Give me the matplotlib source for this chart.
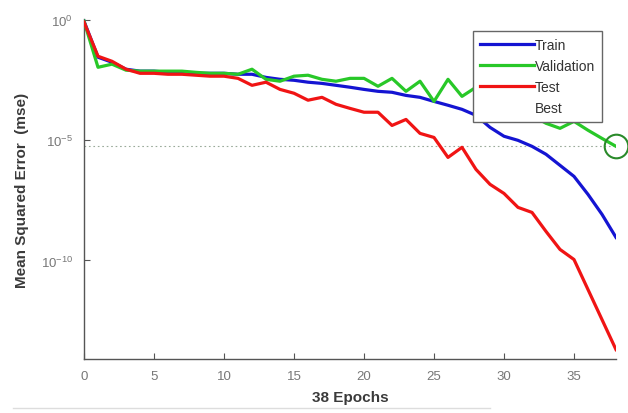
import numpy as np
import matplotlib
matplotlib.use('Agg')
import matplotlib.pyplot as plt
from matplotlib.lines import Line2D

# log10(mse) per epoch
epochs = list(range(39))
train_log = [-0.04, -1.54, -1.75, -2.04, -2.12, -2.12, -2.17, -2.17, -2.21, -2.21,
             -2.21, -2.25, -2.25, -2.38, -2.46, -2.50, -2.58, -2.63, -2.71, -2.79,
             -2.88, -2.96, -3.00, -3.13, -3.21, -3.38, -3.54, -3.71, -3.96, -4.46,
             -4.83, -5.00, -5.25, -5.58, -6.04, -6.50, -7.25, -8.08, -9.04]
val_log = [-0.04, -1.96, -1.83, -2.08, -2.12, -2.12, -2.12, -2.12, -2.17, -2.21,
           -2.21, -2.25, -2.04, -2.46, -2.54, -2.33, -2.29, -2.46, -2.54, -2.42,
           -2.42, -2.75, -2.42, -2.96, -2.54, -3.38, -2.46, -3.17, -2.79, -3.13,
           -3.38, -3.63, -3.96, -4.29, -4.50, -4.21, -4.58, -4.92, -5.25]
test_log = [-0.08, -1.50, -1.71, -2.04, -2.21, -2.21, -2.25, -2.25, -2.29, -2.33,
            -2.33, -2.42, -2.71, -2.58, -2.88, -3.04, -3.33, -3.21, -3.50, -3.67,
            -3.83, -3.83, -4.38, -4.13, -4.71, -4.88, -5.71, -5.29, -6.21, -6.83,
            -7.21, -7.79, -8.00, -8.79, -9.54, -9.96, -11.21, -12.46, -13.71]
labels = ['Train', 'Validation', 'Test', 'Best']
best_epoch = 38
best_log = -5.25

train = 10.0 ** np.array(train_log)
val = 10.0 ** np.array(val_log)
test = 10.0 ** np.array(test_log)
best = 10.0 ** best_log

plt.rcParams['font.family'] = ['Liberation Sans', 'DejaVu Sans']

fig = plt.figure(figsize=(6.28, 4.14), dpi=100)
ax = fig.add_axes([84 / 628, 1 - 360 / 414, (616 - 84) / 628, (360 - 20) / 414])

ax.plot(epochs, train, color='#1414d2', lw=2.3, zorder=3)
ax.plot(epochs, val, color='#28c828', lw=2.3, zorder=3)
ax.plot(epochs, test, color='#f01414', lw=2.3, zorder=3)

# best validation marker and guide line
ax.axhline(best, color='#9aaa9a', lw=0.8, ls=(0, (1.5, 2.5)), zorder=1)
ax.plot([best_epoch], [best], 'o', mfc='none', mec='#2a8a2a', ms=17, mew=1.5,
        clip_on=False, zorder=4)

ax.set_yscale('log')
ax.set_xlim(0, 38)
ax.set_ylim(10 ** -14.1, 10 ** 0.05)
ax.set_xticks([0, 5, 10, 15, 20, 25, 30, 35])
ax.set_yticks([1e0, 1e-5, 1e-10])
ax.yaxis.set_minor_locator(matplotlib.ticker.NullLocator())

for s in ['top', 'right']:
    ax.spines[s].set_visible(False)
for s in ['left', 'bottom']:
    ax.spines[s].set_color('#555555')
    ax.spines[s].set_linewidth(1.0)
ax.tick_params(direction='in', length=4, color='#555555', labelcolor='#777777',
               labelsize=9.5, pad=8)

ax.set_xlabel('38 Epochs', fontsize=11, fontweight='bold', color='#3a3a3a', labelpad=6)
ax.set_ylabel('Mean Squared Error  (mse)', fontsize=11, fontweight='bold',
              color='#3a3a3a', labelpad=8)

# legend: three line entries plus an empty "Best" entry
handles = [Line2D([], [], color='#1414d2', lw=2.3),
           Line2D([], [], color='#28c828', lw=2.3),
           Line2D([], [], color='#f01414', lw=2.3),
           Line2D([], [], color='none')]
leg = ax.legend(handles, labels, loc='upper left',
                bbox_to_anchor=((473 - 84) / 532, 1 - 12 / 340),
                borderaxespad=0, fontsize=10, handlelength=3.9, handletextpad=0.05,
                labelspacing=0.5, borderpad=0.5, fancybox=False,
                framealpha=1, edgecolor='#666666')
leg.get_frame().set_linewidth(1.0)
for t in leg.get_texts():
    t.set_color('#333333')

# faint rule along the bottom edge of the picture
fig.add_artist(Line2D([0.02, 0.78], [0.012, 0.012], color='#dddddd', lw=1))

fig.savefig('out.png', dpi=100)
